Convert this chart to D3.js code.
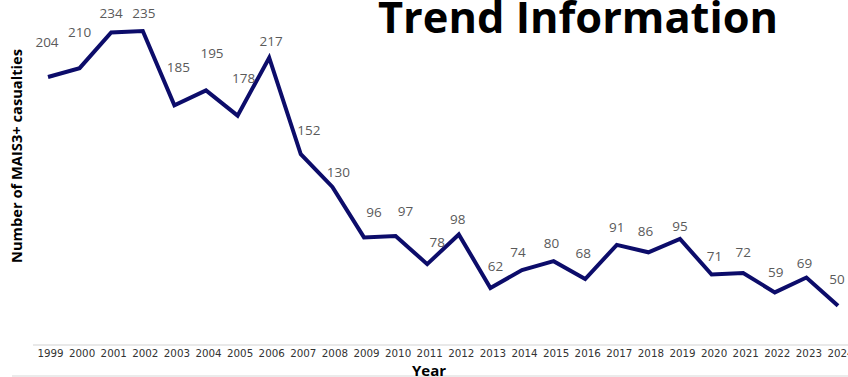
<!DOCTYPE html>
<html>
<head>
<meta charset="utf-8">
<script src="https://cdn.jsdelivr.net/npm/d3@7"></script>
<style>
  body { margin: 0; background: #fff; }
  svg { display: block; }
</style>
</head>
<body>
<svg id="chart" width="848" height="377"></svg>
<script>
// data
var years = [1999, 2000, 2001, 2002, 2003, 2004, 2005, 2006, 2007, 2008, 2009, 2010, 2011,
             2012, 2013, 2014, 2015, 2016, 2017, 2018, 2019, 2020, 2021, 2022, 2023, 2024];
var casualties = [204, 210, 234, 235, 185, 195, 178, 217, 152, 130, 96, 97, 78,
                  98, 62, 74, 80, 68, 91, 86, 95, 71, 72, 59, 69, 50];
// label nudges (px) to follow the picture's label placement
var labelDx = [-1, 0, 0, 1, 4, 6, 6, 2, 8, 6, 10, 10, 10, -1, 5, -4, -2, -2, 0, -3, 0, 3, 0, 1, -2, -1];
var labelDy = [-30, -31, -14, -13, -33, -32, -33, -12, -19, -10, -20, -20, -17, -10, -17, -13, -13, -21, -13, -16, -8, -14, -16, -15, -10, -22];

var data = years.map(function (y, i) {
    return { year: y, value: casualties[i], dx: labelDx[i], dy: labelDy[i] };
});

var svg = d3.select("#chart");

// scales
var xScale = d3.scaleLinear().domain([1999, 2024]).range([48, 838]);
var yScale = d3.scaleLinear().domain([0, 235]).range([380, 31]);

// faint rules around the axis labels
svg.append("line")
    .attr("x1", 33).attr("x2", 848).attr("y1", 345).attr("y2", 345)
    .attr("stroke", "#e9e9e9").attr("stroke-width", 2);
svg.append("line")
    .attr("x1", 12).attr("x2", 848).attr("y1", 376).attr("y2", 376)
    .attr("stroke", "#e4e4e4").attr("stroke-width", 1.5);

// x axis (labels only)
var xAxis = d3.axisBottom(xScale)
    .tickValues(years)
    .tickFormat(d3.format("d"))
    .tickSize(0)
    .tickPadding(0);
var gx = svg.append("g")
    .attr("transform", "translate(2,350)")
    .call(xAxis);
gx.select(".domain").remove();
gx.selectAll("text")
    .attr("font-family", "DejaVu Sans, Verdana, sans-serif")
    .attr("font-size", 10.3)
    .attr("fill", "#333");

// line
var line = d3.line()
    .x(function (d) { return xScale(d.year); })
    .y(function (d) { return yScale(d.value); });

svg.append("path")
    .datum(data)
    .attr("d", line)
    .attr("fill", "none")
    .attr("stroke", "#0c0c6a")
    .attr("stroke-width", 4)
    .attr("stroke-linejoin", "miter");

// data labels
svg.selectAll(".lbl")
    .data(data)
    .enter()
    .append("text")
    .attr("class", "lbl")
    .attr("x", function (d) { return xScale(d.year) + d.dx; })
    .attr("y", function (d) { return yScale(d.value) + d.dy; })
    .attr("text-anchor", "middle")
    .attr("font-family", "Open Sans, Liberation Sans, sans-serif")
    .attr("font-size", 13.5)
    .attr("fill", "#5a5a5a")
    .text(function (d) { return d.value; });

// title
svg.append("text")
    .attr("x", 378)
    .attr("y", 33)
    .attr("textLength", 400)
    .attr("lengthAdjust", "spacingAndGlyphs")
    .attr("font-family", "Open Sans, Liberation Sans, sans-serif")
    .attr("font-weight", "bold")
    .attr("font-size", 43)
    .attr("fill", "#000")
    .text("Trend Information");

// y axis title
svg.append("text")
    .attr("transform", "translate(22,156) rotate(-90)")
    .attr("text-anchor", "middle")
    .attr("textLength", 214)
    .attr("lengthAdjust", "spacingAndGlyphs")
    .attr("font-family", "Open Sans, Liberation Sans, sans-serif")
    .attr("font-weight", "bold")
    .attr("font-size", 13.5)
    .attr("fill", "#000")
    .text("Number of MAIS3+ casualties");

// x axis title
svg.append("text")
    .attr("x", 429)
    .attr("y", 376)
    .attr("text-anchor", "middle")
    .attr("font-family", "Open Sans, Liberation Sans, sans-serif")
    .attr("font-weight", "bold")
    .attr("font-size", 15)
    .attr("fill", "#000")
    .text("Year");
</script>
</body>
</html>
